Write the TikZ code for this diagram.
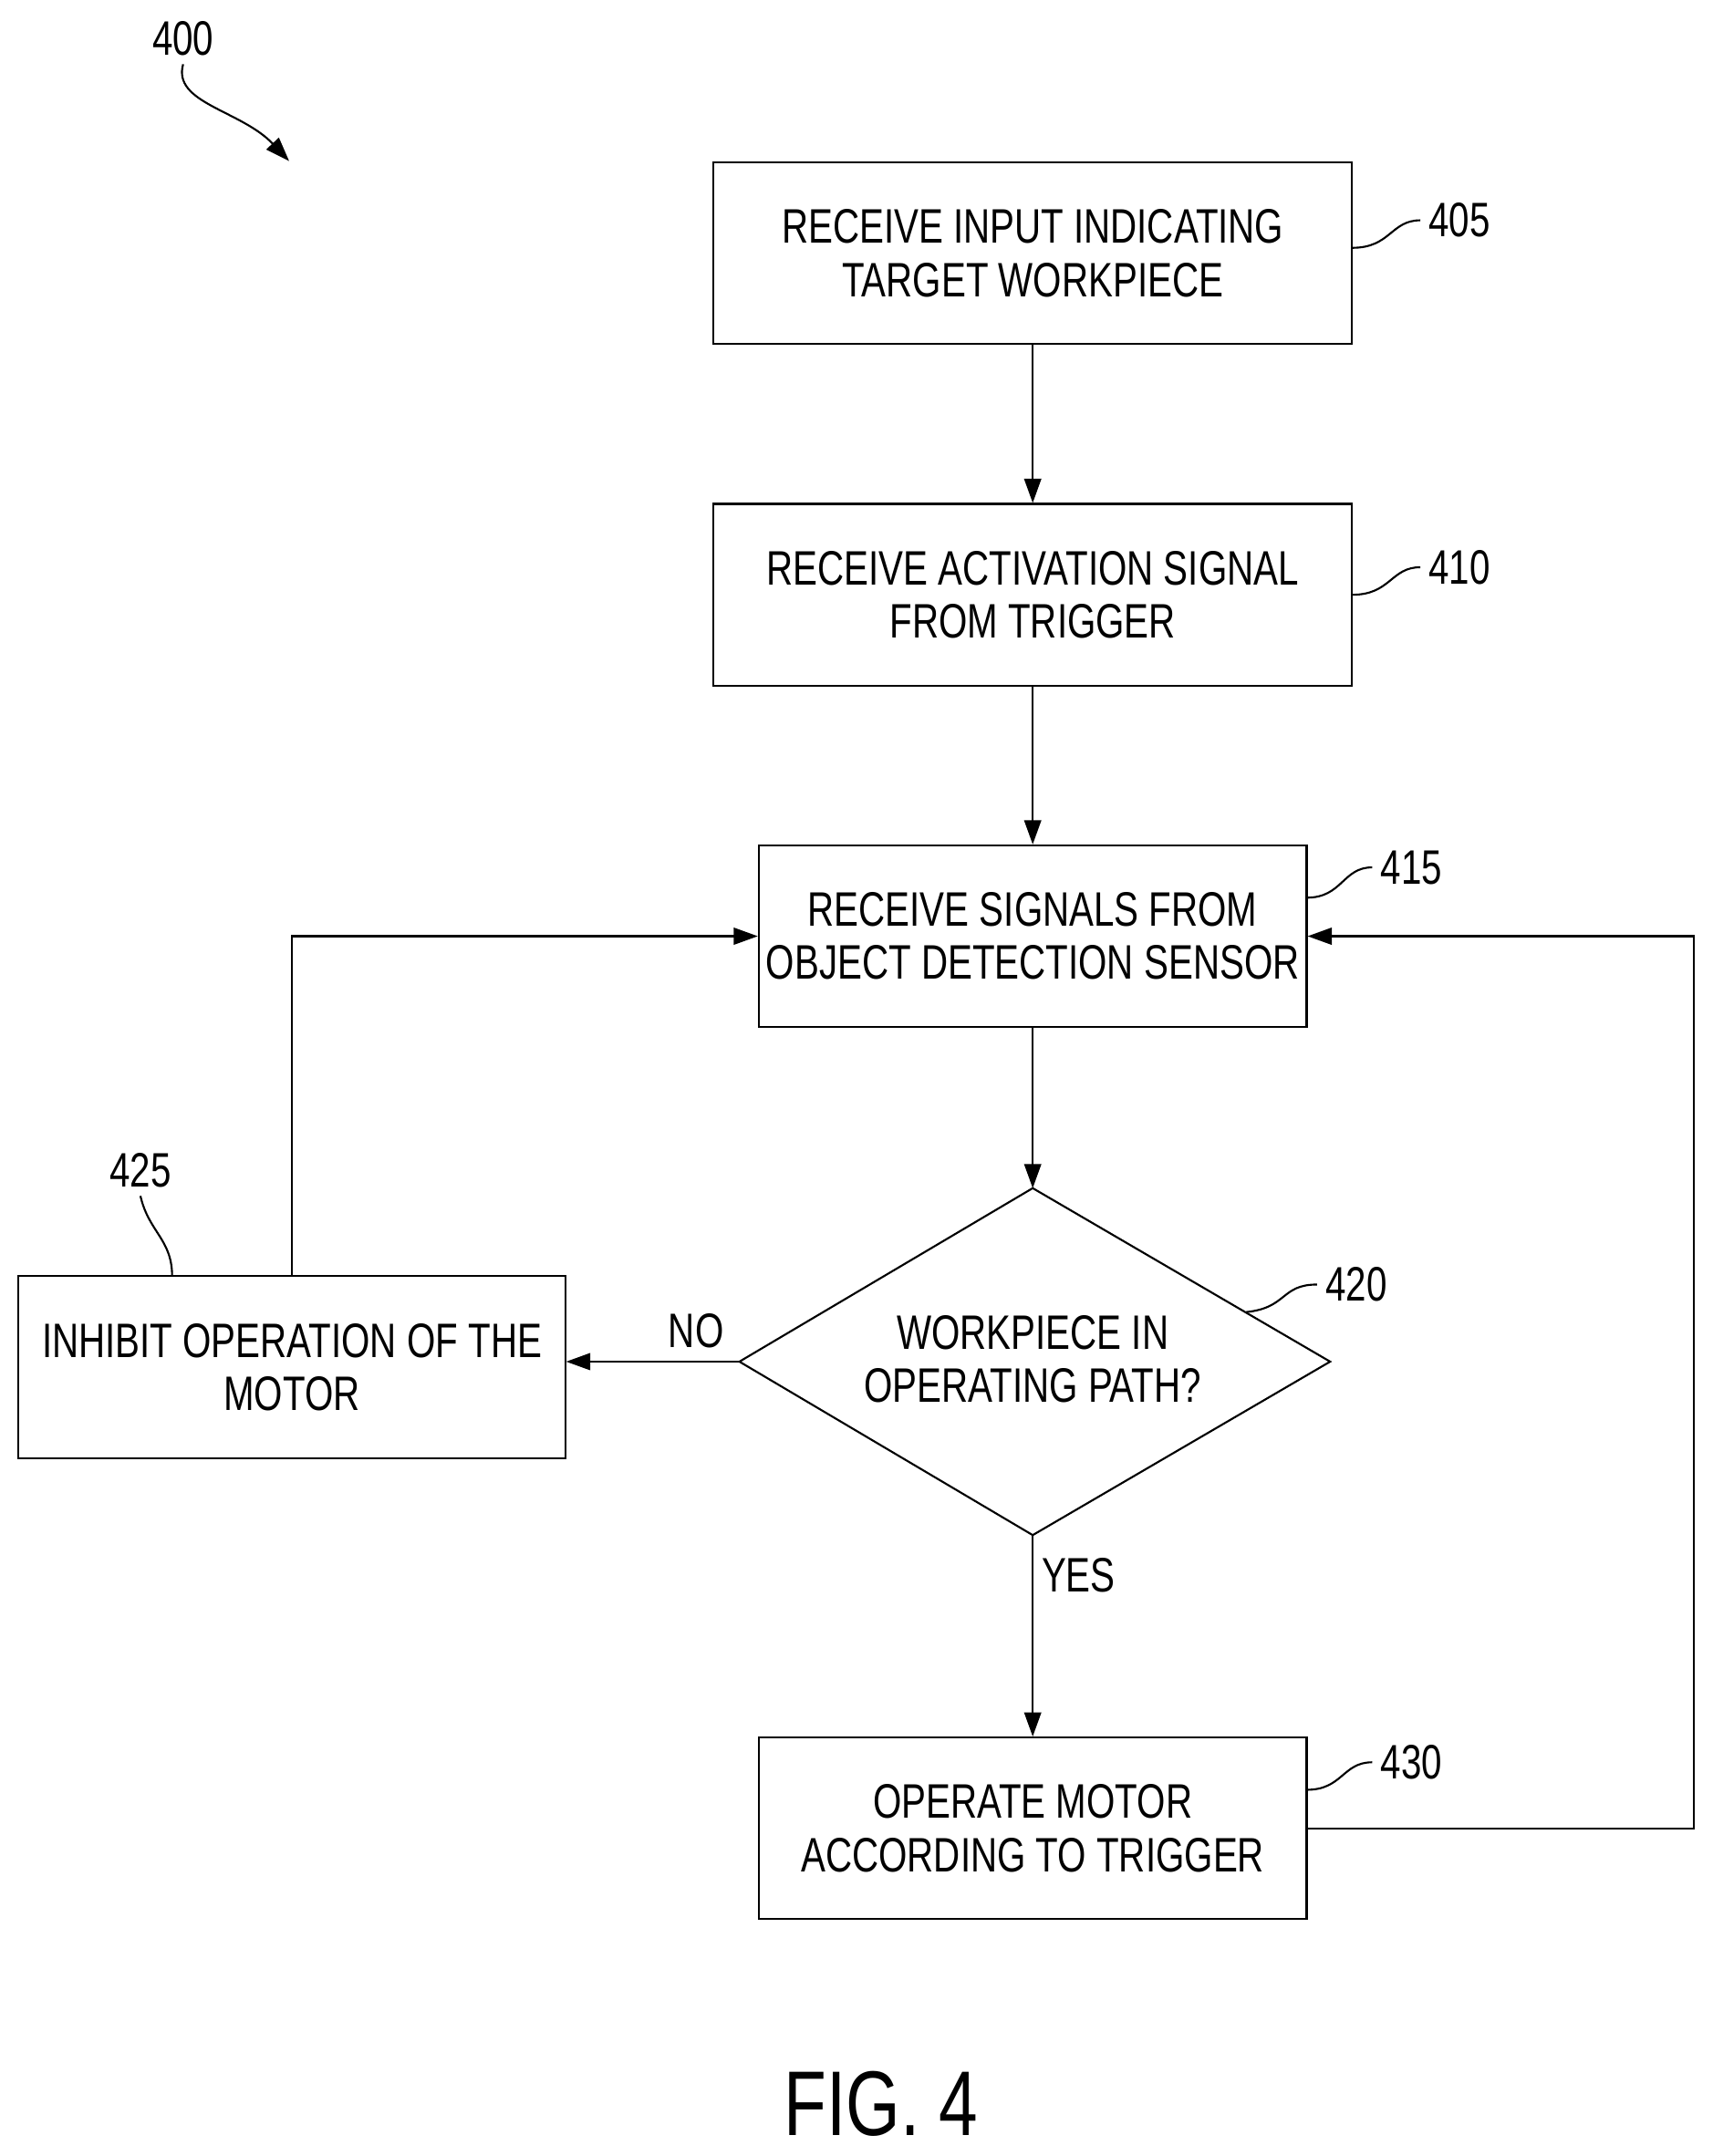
\documentclass[tikz,border=0pt]{standalone}
\usepackage{fontspec}
\setmainfont{Liberation Sans}[FakeStretch=0.76]
\usetikzlibrary{arrows.meta}
\begin{document}
\begin{tikzpicture}[x=0.02cm,y=-0.02cm,
    box/.style={draw,thick,align=center,minimum height=2.64cm,inner sep=0pt,font=\fontsize{20}{22}\selectfont},
    flow/.style={thick,-{Triangle[length=10pt,width=7pt]}},
    lbl/.style={font=\fontsize{20}{22}\selectfont}]
    \useasboundingbox (0,0) rectangle (1244,1566);

    \node[box,minimum width=9.28cm] (receive) at (750,184) {RECEIVE INPUT INDICATING\\TARGET WORKPIECE};
    \node[box,minimum width=9.28cm] (activate) at (750,432) {RECEIVE ACTIVATION SIGNAL\\FROM TRIGGER};
    \node[box,minimum width=7.96cm] (sense) at (750,680) {RECEIVE SIGNALS FROM\\OBJECT DETECTION SENSOR};
    \coordinate (checkN) at (750,863);
    \coordinate (checkS) at (750,1115);
    \coordinate (checkW) at (537,989);
    \coordinate (checkE) at (966,989);
    \draw[thick] (checkN) -- (checkE) -- (checkS) -- (checkW) -- cycle;
    \node[lbl,align=center] (check) at (750,987) {WORKPIECE IN\\OPERATING PATH?};
    \node[box,minimum width=7.94cm] (inhibit) at (212,993) {INHIBIT OPERATION OF THE\\MOTOR};
    \node[box,minimum width=7.96cm] (operate) at (750,1328) {OPERATE MOTOR\\ACCORDING TO TRIGGER};

    \draw[flow] (receive) -- (activate);
    \draw[flow] (activate) -- (sense);
    \draw[flow] (sense) -- (checkN);
    \draw[flow] (checkW) -- node[lbl,above,pos=0.25,yshift=2pt] {NO} (inhibit.east |- checkW);
    \draw[flow] (checkS) -- node[lbl,right,pos=0.2] {YES} (operate.north);
    \draw[flow] (inhibit.north) |- (sense.west);
    \draw[flow] (operate.east) -- (1230,1328) |- (sense.east);

    % reference numerals
    \node[lbl] (n400) at (133,28) {400};
    \node[lbl] (n405) at (1060,160) {405};
    \node[lbl] (n410) at (1060,412) {410};
    \node[lbl] (n415) at (1025,630) {415};
    \node[lbl] (n420) at (985,933) {420};
    \node[lbl] (n425) at (102,850) {425};
    \node[lbl] (n430) at (1025,1280) {430};
    \draw[thick] (982,180) .. controls (1010,180) and (1010,160) .. (n405.west);
    \draw[thick] (982,432) .. controls (1010,432) and (1010,412) .. (n410.west);
    \draw[thick] (949,652) .. controls (975,652) and (975,630) .. (n415.west);
    \draw[thick] (905,953) .. controls (935,950) and (930,933) .. (n420.west);
    \draw[thick] (125,927) .. controls (125,900) and (108,895) .. (n425.south);
    \draw[thick] (949,1300) .. controls (975,1300) and (975,1280) .. (n430.west);
    \draw[thick,-{Triangle[length=10pt,width=7pt]}] (n400.south) .. controls (125,75) and (175,80) .. (210,117);

    \node[font=\fontsize{38}{42}\selectfont] (fig) at (640,1528) {FIG. 4};
\end{tikzpicture}
\end{document}
